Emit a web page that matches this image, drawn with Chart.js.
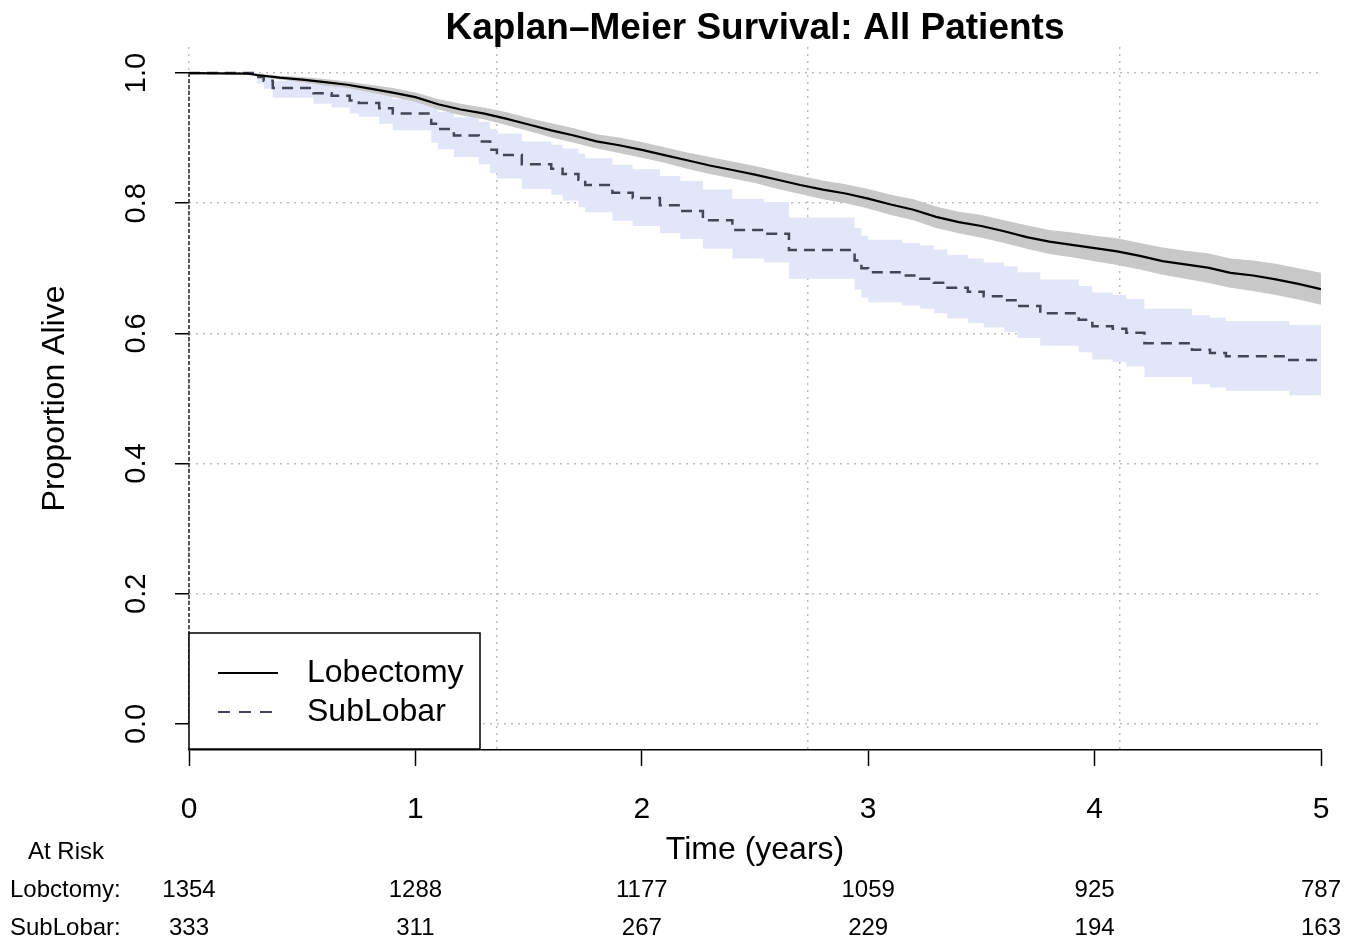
<!DOCTYPE html>
<html><head><meta charset="utf-8">
<script src="https://cdn.jsdelivr.net/npm/chart.js@4.4.0/dist/chart.umd.min.js"></script>
<style>html,body{margin:0;padding:0;background:#fff}#wrap{width:1363px;height:946px;position:relative}</style>
</head><body><div id="wrap"><canvas id="c" width="1363" height="946"></canvas></div>
<script>
const chartTitle = 'Kaplan–Meier Survival: All Patients';
const xTitle = 'Time (years)';
const yTitle = 'Proportion Alive';
const seriesNames = ['Lobectomy', 'SubLobar'];
const xTicks = [0, 1, 2, 3, 4, 5];
const yTicks = [0, 0.2, 0.4, 0.6, 0.8, 1.0];
const gridX = [0, 1.36, 2.735, 4.11];
const riskTitle = 'At Risk';
const riskTimes = [0, 1, 2, 3, 4, 5];
const riskLabels = ['Lobctomy:', 'SubLobar:'];
const riskLob = [1354, 1288, 1177, 1059, 925, 787];
const riskSub = [333, 311, 267, 229, 194, 163];

const lobTime  = [0, 0.26, 0.30, 0.40, 0.50, 0.60, 0.70, 0.80, 0.90, 1.00, 1.10, 1.20, 1.30, 1.40, 1.50, 1.60, 1.70, 1.80, 1.90, 2.00, 2.10, 2.20, 2.30, 2.40, 2.50, 2.60, 2.70, 2.80, 2.90, 3.00, 3.10, 3.20, 3.30, 3.40, 3.50, 3.60, 3.70, 3.80, 3.90, 4.00, 4.10, 4.20, 4.30, 4.40, 4.50, 4.60, 4.70, 4.80, 4.90, 5.00];
const lobSurv  = [1, 0.999, 0.997, 0.993, 0.990, 0.986, 0.982, 0.976, 0.970, 0.963, 0.952, 0.944, 0.938, 0.930, 0.921, 0.912, 0.904, 0.895, 0.889, 0.882, 0.874, 0.866, 0.858, 0.851, 0.844, 0.836, 0.828, 0.821, 0.815, 0.807, 0.798, 0.790, 0.779, 0.771, 0.765, 0.757, 0.748, 0.741, 0.736, 0.731, 0.726, 0.719, 0.711, 0.706, 0.701, 0.693, 0.689, 0.683, 0.676, 0.668];
const lobUpper = [1, 1, 0.999, 0.996, 0.994, 0.991, 0.987, 0.982, 0.977, 0.970, 0.960, 0.953, 0.947, 0.940, 0.931, 0.923, 0.915, 0.906, 0.901, 0.894, 0.886, 0.878, 0.871, 0.864, 0.857, 0.849, 0.842, 0.835, 0.829, 0.822, 0.813, 0.806, 0.795, 0.787, 0.782, 0.774, 0.766, 0.759, 0.755, 0.750, 0.746, 0.739, 0.732, 0.727, 0.723, 0.715, 0.712, 0.707, 0.700, 0.693];
const lobLower = [1, 0.998, 0.995, 0.990, 0.986, 0.981, 0.977, 0.970, 0.963, 0.956, 0.944, 0.935, 0.929, 0.920, 0.911, 0.901, 0.893, 0.884, 0.877, 0.870, 0.862, 0.853, 0.845, 0.838, 0.831, 0.822, 0.814, 0.806, 0.800, 0.792, 0.782, 0.774, 0.762, 0.754, 0.747, 0.739, 0.730, 0.722, 0.717, 0.711, 0.705, 0.698, 0.690, 0.684, 0.678, 0.670, 0.665, 0.659, 0.652, 0.644];

const subTime  = [0, 0.30, 0.33, 0.37, 0.55, 0.63, 0.71, 0.75, 0.84, 0.90, 1.07, 1.10, 1.17, 1.28, 1.33, 1.36, 1.47, 1.60, 1.65, 1.72, 1.75, 1.87, 1.96, 2.08, 2.17, 2.27, 2.40, 2.54, 2.65, 2.94, 2.97, 3.00, 3.15, 3.23, 3.29, 3.35, 3.44, 3.51, 3.60, 3.66, 3.76, 3.93, 3.99, 4.08, 4.14, 4.22, 4.43, 4.51, 4.58, 4.86, 5.00];
const subSurv  = [1, 0.994, 0.988, 0.977, 0.969, 0.965, 0.958, 0.954, 0.946, 0.938, 0.922, 0.914, 0.904, 0.895, 0.882, 0.874, 0.860, 0.853, 0.845, 0.836, 0.828, 0.816, 0.808, 0.797, 0.788, 0.774, 0.759, 0.753, 0.728, 0.712, 0.700, 0.694, 0.689, 0.684, 0.678, 0.670, 0.664, 0.657, 0.651, 0.642, 0.631, 0.621, 0.611, 0.607, 0.601, 0.585, 0.575, 0.570, 0.565, 0.559, 0.559];
const subUpper = [1, 1.000, 0.996, 0.988, 0.983, 0.981, 0.976, 0.973, 0.967, 0.960, 0.947, 0.940, 0.932, 0.925, 0.914, 0.907, 0.895, 0.890, 0.884, 0.876, 0.869, 0.859, 0.852, 0.842, 0.834, 0.821, 0.807, 0.802, 0.778, 0.762, 0.750, 0.744, 0.739, 0.735, 0.729, 0.721, 0.715, 0.709, 0.703, 0.694, 0.683, 0.673, 0.663, 0.659, 0.653, 0.638, 0.628, 0.624, 0.619, 0.613, 0.613];
const subLower = [1, 0.984, 0.976, 0.962, 0.953, 0.947, 0.938, 0.933, 0.922, 0.912, 0.893, 0.883, 0.871, 0.860, 0.846, 0.838, 0.822, 0.813, 0.804, 0.794, 0.786, 0.773, 0.765, 0.754, 0.745, 0.730, 0.715, 0.709, 0.684, 0.667, 0.655, 0.648, 0.643, 0.638, 0.631, 0.623, 0.616, 0.609, 0.602, 0.593, 0.581, 0.571, 0.560, 0.556, 0.549, 0.533, 0.522, 0.517, 0.512, 0.505, 0.505];

const FF = "'Liberation Sans', Arial, Helvetica, sans-serif";
const pts = (t, v) => t.map((tt, i) => ({x: tt, y: v[i]}));

const stepBase = {pointRadius: 0, pointHoverRadius: 0, stepped: true, tension: 0};
const lineBase = {pointRadius: 0, pointHoverRadius: 0, stepped: false, tension: 0};
const clear = 'rgba(0,0,0,0)';
const datasets = [
  Object.assign({}, lineBase, {label: seriesNames[0], data: pts(lobTime, lobSurv), borderColor: '#000', borderWidth: 2.2, fill: false}),
  Object.assign({}, stepBase, {label: seriesNames[1], data: pts(subTime, subSurv), borderColor: '#434656', borderWidth: 2.5, borderDash: [11, 7], fill: false}),
  Object.assign({}, lineBase, {label: 'lobU', data: pts(lobTime, lobUpper), borderWidth: 0, borderColor: clear, backgroundColor: '#c8c8c8', fill: '+1'}),
  Object.assign({}, lineBase, {label: 'lobL', data: pts(lobTime, lobLower), borderWidth: 0, borderColor: clear, fill: false}),
  Object.assign({}, stepBase, {label: 'subU', data: pts(subTime, subUpper), borderWidth: 0, borderColor: clear, backgroundColor: '#e3e6f9', fill: '+1'}),
  Object.assign({}, stepBase, {label: 'subL', data: pts(subTime, subLower), borderWidth: 0, borderColor: clear, fill: false})
];

const extras = {
  id: 'extras',
  afterDraw(chart) {
    const {ctx, chartArea: a, scales: {x, y}} = chart;
    ctx.save();
    const x0 = x.getPixelForValue(0);
    ctx.strokeStyle = '#333'; ctx.lineWidth = 1.6; ctx.setLineDash([4, 2]);
    ctx.beginPath(); ctx.moveTo(x0, y.getPixelForValue(1)); ctx.lineTo(x0, y.getPixelForValue(0)); ctx.stroke();
    ctx.setLineDash([]);
    const cx = (a.left + a.right) / 2;
    ctx.fillStyle = '#000'; ctx.textAlign = 'center'; ctx.textBaseline = 'middle';
    ctx.font = 'bold 37px ' + FF;
    ctx.fillText(chartTitle, cx, 29);
    ctx.font = '32px ' + FF;
    ctx.fillText(xTitle, cx, 850);
    ctx.font = '24px ' + FF;
    ctx.fillText(riskTitle, 66, 852);
    ctx.textAlign = 'left';
    ctx.fillText(riskLabels[0], 10, 890);
    ctx.fillText(riskLabels[1], 10, 928);
    ctx.textAlign = 'center';
    riskTimes.forEach((t, i) => {
      const px = x.getPixelForValue(t);
      ctx.fillText(String(riskLob[i]), px, 890);
      ctx.fillText(String(riskSub[i]), px, 928);
    });
    // legend box
    const lx = a.left, lb = a.bottom - 1, lw = 291, lh = 116, ly = lb - lh;
    ctx.fillStyle = '#fff'; ctx.fillRect(lx, ly, lw, lh);
    ctx.strokeStyle = '#000'; ctx.lineWidth = 1.5; ctx.strokeRect(lx, ly, lw, lh);
    ctx.lineWidth = 2; ctx.strokeStyle = '#000';
    ctx.beginPath(); ctx.moveTo(lx + 29, ly + 40); ctx.lineTo(lx + 89, ly + 40); ctx.stroke();
    ctx.strokeStyle = '#434656'; ctx.setLineDash([12, 9]);
    ctx.beginPath(); ctx.moveTo(lx + 29, ly + 79); ctx.lineTo(lx + 89, ly + 79); ctx.stroke();
    ctx.setLineDash([]);
    ctx.fillStyle = '#000'; ctx.textAlign = 'left'; ctx.font = '32px ' + FF;
    ctx.fillText(seriesNames[0], lx + 118, ly + 40);
    ctx.fillText(seriesNames[1], lx + 118, ly + 79);
    ctx.restore();
  }
};

new Chart(document.getElementById('c'), {
  type: 'line',
  data: {datasets},
  plugins: [extras],
  options: {
    responsive: false,
    animation: false,
    events: [],
    layout: {padding: {top: 47, right: 42, left: 0, bottom: 0}},
    plugins: {legend: {display: false}, tooltip: {enabled: false}, title: {display: false}},
    scales: {
      x: {
        type: 'linear', min: 0, max: 5, position: 'bottom',
        afterBuildTicks: (s) => { s.ticks = xTicks.map(v => ({value: v})); },
        afterFit: (s) => { s.height = 196; },
        ticks: {color: '#000', font: {family: FF, size: 30}, padding: 26, callback: (v) => String(v)},
        grid: {drawOnChartArea: false, drawTicks: true, tickLength: 16, tickColor: '#000', tickWidth: 1.5},
        border: {display: true, color: '#000', width: 1.5}
      },
      xg: {
        type: 'linear', min: 0, max: 5, position: 'bottom', display: true,
        afterBuildTicks: (s) => { s.ticks = gridX.map(v => ({value: v})); },
        afterFit: (s) => { s.height = 0; },
        ticks: {display: false},
        grid: {drawOnChartArea: true, drawTicks: false, color: '#bdbdbd', lineWidth: 1.5},
        border: {display: false, dash: [2, 5]}
      },
      y: {
        type: 'linear', min: -0.04, max: 1.04, position: 'left',
        afterBuildTicks: (s) => { s.ticks = yTicks.map(v => ({value: v})); },
        afterFit: (s) => { s.width = 189; },
        ticks: {color: '#000', font: {family: FF, size: 29}, padding: 18, minRotation: 90, maxRotation: 90, crossAlign: 'center', callback: (v) => Number(v).toFixed(1)},
        grid: {drawOnChartArea: true, drawTicks: true, tickLength: 14, color: '#bdbdbd', lineWidth: 1.5, tickColor: '#000', tickWidth: 1.5, tickBorderDash: []},
        border: {display: false, dash: [2, 5]},
        title: {display: true, text: yTitle, color: '#000', font: {family: FF, size: 32}, padding: {top: 36, bottom: 0}}
      }
    }
  }
});
</script>
</body></html>
